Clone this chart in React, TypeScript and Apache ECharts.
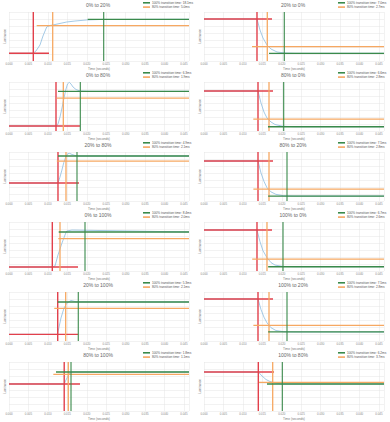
import React, { useEffect, useRef } from "react";
import * as echarts from "echarts";

// ---- data (times in milliseconds, luminance in arbitrary units 0..70) ----
const titles = [
  "0% to 20%", "20% to 0%",
  "0% to 80%", "80% to 0%",
  "20% to 80%", "80% to 20%",
  "0% to 100%", "100% to 0%",
  "20% to 100%", "100% to 20%",
  "80% to 100%", "100% to 80%",
];
const time100 = ["18.1", "7.0", "6.3", "6.6", "4.9", "7.5", "8.4", "6.7", "5.3", "7.5", "1.8", "6.2"];
const time80 = ["5.0", "2.7", "1.9", "2.8", "2.1", "2.8", "2.0", "2.6", "2.1", "2.8", "1.1", "3.7"];

// start of transition (red), 80% end (orange), 100% end (green)
const startMs = [6.25, 13.63, 12.09, 13.89, 12.6, 13.89, 11.14, 13.63, 12.53, 13.89, 14.2, 13.97];
const end80Ms = [11.24, 16.28, 13.97, 16.72, 14.66, 16.72, 13.12, 16.2, 14.58, 16.72, 15.25, 17.67];
const end100Ms = [24.36, 20.65, 18.34, 20.5, 17.49, 21.35, 19.55, 20.32, 17.82, 21.35, 15.95, 20.14];
// extents of the horizontal reference lines
const redLineEnd = [10.29, 17.49, 18.26, 17.75, 18.0, 17.75, 17.75, 17.5, 17.75, 17.75, 18.26, 18.0];
const orangeLineStart = [7.12, 12.35, 12.27, 12.68, 12.3, 12.7, 12.68, 12.4, 11.65, 12.7, 11.4, 14.14];
const greenLineStart = [20.24, 16.72, 12.6, 16.46, 12.6, 16.5, 12.79, 16.5, 12.53, 16.5, 12.09, 16.2];
// luminance levels
const fromLevel = [11.0, 60.0, 7.1, 57.1, 25.7, 57.1, 5.7, 58.6, 9.5, 60.0, 38.6, 55.7];
const level80 = [50.4, 20.4, 47.1, 17.1, 57.1, 17.1, 46.2, 17.1, 46.7, 22.3, 52.4, 40.9];
const toLevel = [59.6, 11.0, 56.7, 6.1, 64.3, 7.1, 55.7, 6.1, 55.7, 12.9, 55.7, 38.6];

// measured luminance curves
const curveTimes: number[][] = [
  [0, 6.17, 6.94, 7.97, 8.74, 9.7, 10.55, 11.83, 14.84, 16.98, 19.98, 23.41, 46.3],
  [0, 13.63, 14.4, 15.17, 16.2, 17.23, 18.78, 20.83, 23.41, 46.3],
  [0, 12.22, 12.6, 13.12, 13.63, 14.15, 14.66, 15.05, 15.51, 15.95, 16.46, 17.23, 18.26, 20.83, 46.3],
  [0, 13.89, 14.66, 15.43, 16.2, 17.23, 18.26, 20.32, 23.41, 46.3],
  [0, 12.6, 13.1, 13.6, 14.1, 14.6, 15.1, 15.6, 16.2, 17.0, 18.0, 46.3],
  [0, 13.89, 14.66, 15.43, 16.2, 17.23, 18.5, 20.5, 23.4, 46.3],
  [0, 11.1, 11.83, 12.6, 13.63, 14.4, 14.84, 16.2, 46.3],
  [0, 13.63, 14.4, 15.17, 16.2, 17.23, 18.26, 20.32, 23.41, 46.3],
  [0, 12.53, 12.6, 13.37, 14.15, 14.92, 15.95, 17.23, 46.3],
  [0, 13.89, 14.66, 15.43, 16.2, 17.23, 18.5, 20.5, 23.4, 46.3],
  [0, 14.2, 14.66, 15.17, 15.69, 16.2, 46.3],
  [0, 13.97, 14.92, 15.95, 16.98, 18.26, 20.06, 46.3],
];
const curveLevels: number[][] = [
  [11.0, 11.0, 14.3, 22.9, 35.7, 48.6, 50.7, 52.1, 55.7, 57.1, 58.6, 59.3, 59.6],
  [60.0, 60.0, 44.3, 32.9, 22.9, 17.1, 12.9, 11.4, 11.0, 11.0],
  [7.1, 7.1, 10.0, 20.0, 32.9, 47.1, 60.0, 67.1, 69.6, 67.1, 62.9, 59.3, 57.1, 56.7, 56.7],
  [57.1, 57.1, 40.0, 27.1, 18.6, 12.9, 9.3, 6.7, 6.1, 6.1],
  [25.7, 25.7, 34.0, 44.0, 55.0, 63.0, 67.5, 68.0, 66.5, 65.0, 64.3, 64.3],
  [57.1, 57.1, 40.0, 28.0, 19.0, 13.0, 9.5, 7.5, 7.1, 7.1],
  [5.7, 5.7, 7.1, 22.9, 40.0, 51.4, 57.1, 58.5, 55.7],
  [58.6, 58.6, 42.0, 29.0, 19.0, 12.0, 8.5, 6.5, 6.1, 6.1],
  [9.5, 9.5, 12.9, 32.9, 47.1, 54.3, 57.9, 56.0, 55.7],
  [60.0, 60.0, 45.0, 34.0, 26.0, 19.0, 15.0, 13.2, 12.9, 12.9],
  [38.6, 38.6, 44.3, 50.0, 54.3, 55.7, 55.7],
  [55.7, 55.7, 50.0, 45.0, 42.1, 40.0, 38.6, 38.6],
];

const xTickStepMs = 5;
const xMaxMs = 46.3;
const yMax = 70;

const RED = "#e2404b";
const ORANGE = "#f6a862";
const GREEN = "#3a8a4b";
const BLUE = "#8dbde0";

function buildOption() {
  const grid: any[] = [];
  const xAxis: any[] = [];
  const yAxis: any[] = [];
  const series: any[] = [];
  const graphic: any[] = [];
  const legend: any[] = [];
  const PW = 195;
  const PH = 70;
  titles.forEach((t, i) => {
    const col = i % 2;
    const row = Math.floor(i / 2);
    const px = col * PW;
    const py = row * PH;
    grid.push({ left: px + 9, top: py + 12, width: 180, height: 49, containLabel: false });
    xAxis.push({
      type: "value",
      gridIndex: i,
      min: 0,
      max: xMaxMs,
      interval: xTickStepMs,
      name: "Time (seconds)",
      nameLocation: "middle",
      nameGap: 6,
      nameTextStyle: { fontSize: 3.2, color: "#777", fontFamily: "Liberation Sans" },
      axisLine: { show: false },
      axisTick: { show: false },
      axisLabel: {
        fontSize: 2.9,
        color: "#888",
        margin: 1.5,
        fontFamily: "Liberation Sans",
        showMaxLabel: false,
        formatter: (v: number) => (v / 1000).toFixed(3),
      },
      splitLine: { show: true, lineStyle: { color: "#e4e4e4", width: 0.5 } },
    });
    yAxis.push({
      type: "value",
      gridIndex: i,
      min: 0,
      max: yMax,
      interval: 10,
      name: "Luminance",
      nameLocation: "middle",
      nameGap: 2.5,
      nameRotate: 90,
      nameTextStyle: { fontSize: 3, color: "#777", fontFamily: "Liberation Sans" },
      axisLine: { show: false },
      axisTick: { show: false },
      axisLabel: { show: false },
      splitLine: { show: true, lineStyle: { color: "#e4e4e4", width: 0.5 } },
    });
    graphic.push({
      type: "text",
      x: px + 98,
      y: py + 5,
      silent: true,
      style: {
        text: t,
        fontSize: 5,
        fill: "#666",
        fontFamily: "Liberation Sans",
        align: "center",
        verticalAlign: "middle",
      },
    });
    const n100 = "100% transition time: " + time100[i] + "ms";
    const n80 = "80% transition time: " + time80[i] + "ms";
    legend.push({
      data: [n100, n80],
      orient: "vertical",
      left: px + 143,
      top: py + 1.3,
      itemWidth: 7,
      itemHeight: 1.6,
      itemGap: 1.3,
      padding: 0,
      icon: "rect",
      textStyle: { fontSize: 3.2, color: "#555", fontFamily: "Liberation Sans", padding: [0, 0, 0, -3] },
    });
    const base = { xAxisIndex: i, yAxisIndex: i, type: "line", symbol: "none", silent: true };
    series.push({
      ...base,
      name: "curve" + i,
      data: curveTimes[i].map((x, k) => [x, curveLevels[i][k]]),
      lineStyle: { color: BLUE, width: 0.8 },
      z: 2,
    });
    series.push({ ...base, name: "red" + i, data: [[startMs[i], 0], [startMs[i], yMax]], lineStyle: { color: RED, width: 1.4 }, z: 3 });
    series.push({ ...base, name: "redh" + i, data: [[0, fromLevel[i]], [redLineEnd[i], fromLevel[i]]], lineStyle: { color: RED, width: 1.4 }, z: 3 });
    series.push({ ...base, name: "orv" + i, data: [[end80Ms[i], 0], [end80Ms[i], yMax]], lineStyle: { color: ORANGE, width: 1.3 }, z: 3 });
    series.push({ ...base, name: n80, data: [[orangeLineStart[i], level80[i]], [xMaxMs, level80[i]]], itemStyle: { color: ORANGE }, lineStyle: { color: ORANGE, width: 1.3 }, z: 3 });
    series.push({ ...base, name: "grv" + i, data: [[end100Ms[i], 0], [end100Ms[i], yMax]], lineStyle: { color: GREEN, width: 1.1 }, z: 4 });
    series.push({ ...base, name: n100, data: [[greenLineStart[i], toLevel[i]], [xMaxMs, toLevel[i]]], itemStyle: { color: GREEN }, lineStyle: { color: GREEN, width: 1.3 }, z: 4 });
  });
  return { animation: false, backgroundColor: "#ffffff", grid, xAxis, yAxis, series, graphic, legend };
}

export default function App() {
  const ref = useRef<HTMLDivElement>(null);
  useEffect(() => {
    if (!ref.current) return;
    const chart = echarts.init(ref.current, undefined, { renderer: "svg" });
    chart.setOption(buildOption() as any);
    return () => chart.dispose();
  }, []);
  return <div ref={ref} style={{ position: "fixed", left: 0, top: 0, width: 390, height: 422 }} />;
}
